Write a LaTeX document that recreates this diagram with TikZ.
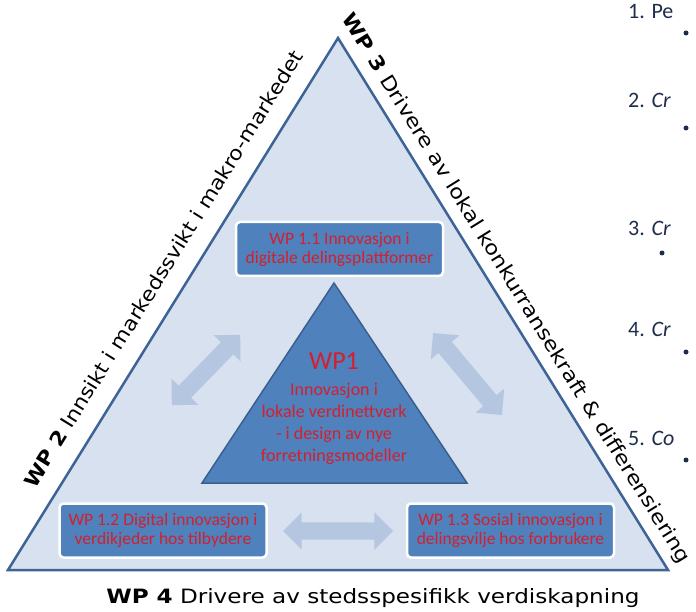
\documentclass[tikz,border=0pt]{standalone}
\usepackage{fontspec}
\setmainfont{Carlito}
\newfontfamily\sidefont{DejaVu Sans}
\usepackage{graphicx}
\usetikzlibrary{shapes.arrows}
\definecolor{paleblue}{HTML}{D7E1EF}
\definecolor{edgeblue}{HTML}{3E6497}
\definecolor{wpblue}{HTML}{4F81BD}
\definecolor{wpedge}{HTML}{3A5F8E}
\definecolor{wpred}{HTML}{D2202E}
\definecolor{arrowblue}{HTML}{B5C7E0}
\definecolor{listnavy}{HTML}{1F2D4D}

\begin{document}
\begin{tikzpicture}[x=1pt, y=-1pt,
  wpbox/.style={fill=wpblue, draw=white, line width=2.5pt, rounded corners=4pt,
    minimum width=207pt, minimum height=54pt, align=center, text=wpred,
    font=\fontsize{17.5}{19}\selectfont, inner sep=0pt},
  linkarrow/.style={double arrow, fill=arrowblue, draw=none, inner xsep=0pt,
    inner ysep=8.5pt, double arrow head extend=10pt},
  sidelabel/.style={font=\sidefont, inner sep=0pt},
  listitem/.style={anchor=base west, text=listnavy, font=\fontsize{22}{24}\selectfont, inner sep=0pt},
  listdot/.style={circle, fill=listnavy, minimum size=5pt, inner sep=0pt}]
  \clip (0,0) rectangle (696,612);
  \fill[white] (0,0) rectangle (696,612);

  % outer triangle
  \coordinate (top) at (338,38);
  \coordinate (left) at (8,570);
  \coordinate (right) at (668,570);
  \draw[fill=paleblue, draw=edgeblue, line width=2.5pt] (top) -- (left) -- (right) -- cycle;

  % inner triangle
  \coordinate (itop) at (334,283);
  \coordinate (ileft) at (202,483);
  \coordinate (iright) at (467,483);
  \draw[fill=wpblue, draw=wpedge, line width=1.5pt] (itop) -- (ileft) -- (iright) -- cycle;
  \node[text=wpred, font=\fontsize{26}{28}\selectfont, anchor=base] (wp1title) at (334,369) {WP1};
  \node[text=wpred, font=\fontsize{18}{22}\selectfont, align=center] (wp1body) at (334,424)
    {Innovasjon i\\lokale verdinettverk\\- i design av nye\\forretningsmodeller};

  % sub packages
  \node[wpbox] (wp11) at (339.5,249) {WP 1.1 Innovasjon i\\digitale delingsplattformer};
  \node[wpbox] (wp12) at (163,530.5) {WP 1.2 Digital innovasjon i\\verdikjeder hos tilbydere};
  \node[wpbox] (wp13) at (510.5,530.5) {WP 1.3 Sosial innovasjon i\\delingsvilje hos forbrukere};

  % links
  \node[linkarrow, minimum height=110pt] (linkbottom) at (338,531) {};
  \node[linkarrow, minimum height=98pt, rotate=45.8] (linkleft) at (206,370) {};
  \node[linkarrow, minimum height=107pt, rotate=-50] (linkright) at (467.5,374) {};

  % side labels
  \path (left) -- (top) node[sidelabel, pos=0.54, sloped, above=19pt] (wp2label)
    {\resizebox{510pt}{15pt}{\textbf{WP 2} Innsikt i markedssvikt i makro-markedet}};
  \path (top) -- (right) node[sidelabel, pos=0.49, sloped, above=9pt] (wp3label)
    {\resizebox{642pt}{15pt}{\textbf{WP 3} Drivere av lokal konkurransekraft \& differensiering}};
  \node[sidelabel, anchor=base] (wp4label) at (373,603)
    {\resizebox{533pt}{15pt}{\textbf{WP\,\,4} Drivere av stedsspesifikk verdiskapning}};

  % list on the right
  \node[listitem] (item1) at (628,19) {1. Pe};
  \node[listdot] (dot1) at (686,33) {};
  \node[listitem] (item2) at (628,108) {2. \textit{Cr}};
  \node[listdot] (dot2) at (686,128) {};
  \node[listitem] (item3) at (628,236) {3. \textit{Cr}};
  \node[listdot] (dot3) at (662,253) {};
  \node[listitem] (item4) at (628,337) {4. \textit{Cr}};
  \node[listdot] (dot4) at (686,352) {};
  \node[listitem] (item5) at (628,445) {5. \textit{Co}};
  \node[listdot] (dot5) at (686,460) {};
\end{tikzpicture}
\end{document}
